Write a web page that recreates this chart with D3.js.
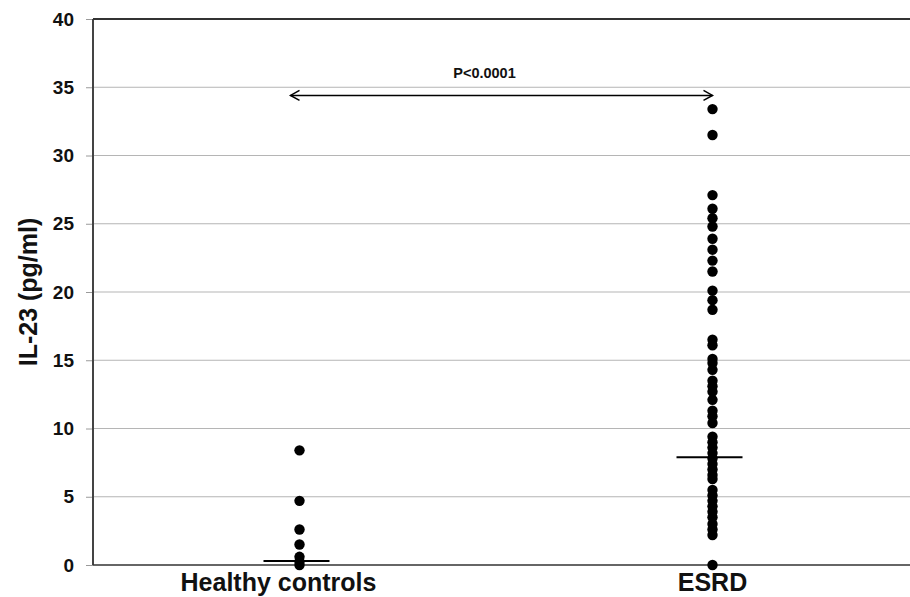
<!DOCTYPE html>
<html>
<head>
<meta charset="utf-8">
<script src="https://cdn.jsdelivr.net/npm/d3@7/dist/d3.min.js"></script>
<style>
  body { margin: 0; background: #fff; }
  svg { display: block; font-family: "Liberation Sans", Arial, sans-serif; }
</style>
</head>
<body>
<svg id="chart" width="910" height="597"></svg>
<script>
// groups on the x axis
var categories = ["Healthy controls", "ESRD"];

// IL-23 values (pg/ml)
var healthyValues = [8.4, 4.7, 2.6, 1.5, 0.6, 0.25, 0];
var esrdValues = [33.4, 31.5, 27.1, 26.1, 25.4, 24.8, 23.9, 23.1, 22.3, 21.5, 20.1, 19.4, 18.7,
                  16.5, 16.1, 15.1, 14.8, 14.3, 13.5, 13.1, 12.7, 12.1, 11.3, 10.9, 10.4,
                  9.4, 9.0, 8.6, 8.2, 7.8, 7.4, 7.0, 6.6, 6.3, 5.5, 5.1, 4.7, 4.3, 3.9,
                  3.5, 3.0, 2.6, 2.2, 0];

// group mean/median bars
var centreValues = [0.3, 7.9];

var yTicks = [0, 5, 10, 15, 20, 25, 30, 35, 40];
var pLabel = "P<0.0001";
var pValueLevel = 34.4;

var svg = d3.select("#chart");

var plotLeft = 93, plotTop = 19, plotBottom = 565, plotRight = 919;

var x = d3.scaleBand()
    .domain(categories)
    .range([plotLeft, plotRight]);

var y = d3.scaleLinear()
    .domain([0, 40])
    .range([plotBottom, plotTop]);

// gridlines
svg.append("g")
    .selectAll("line")
    .data(yTicks.filter(d => d > 0 && d < 40))
    .enter().append("line")
        .attr("x1", plotLeft)
        .attr("x2", 910)
        .attr("y1", d => y(d))
        .attr("y2", d => y(d))
        .style("stroke", "#b5b5b5")
        .style("stroke-width", 1);

// y axis
var yAxis = svg.append("g")
    .attr("transform", "translate(" + plotLeft + ",0)")
    .call(d3.axisLeft(y).tickValues(yTicks).tickSize(7).tickPadding(12));

yAxis.select(".domain").remove();
yAxis.selectAll(".tick line").style("stroke", "#9a9a9a");
yAxis.selectAll(".tick text")
    .style("font-size", "19px")
    .style("font-weight", "bold")
    .style("fill", "#111");

// frame: left, top and bottom
svg.append("line")
    .attr("x1", plotLeft).attr("x2", plotLeft)
    .attr("y1", plotTop).attr("y2", plotBottom)
    .style("stroke", "#444").style("stroke-width", 2);

svg.append("line")
    .attr("x1", plotLeft).attr("x2", 910)
    .attr("y1", plotTop).attr("y2", plotTop)
    .style("stroke", "#333").style("stroke-width", 2);

svg.append("line")
    .attr("x1", plotLeft).attr("x2", 910)
    .attr("y1", plotBottom).attr("y2", plotBottom)
    .style("stroke", "#333").style("stroke-width", 1.5);

// x axis labels (the first one sits a little left of its dots)
svg.append("g")
    .selectAll("text")
    .data(categories)
    .enter().append("text")
        .attr("x", (d, i) => x(d) + x.bandwidth() / 2 - (i === 0 ? 21 : 0))
        .attr("y", 591)
        .attr("text-anchor", "middle")
        .style("font-size", "25px")
        .style("font-weight", "bold")
        .style("fill", "#111")
        .text(d => d);

// y axis title
svg.append("text")
    .attr("transform", "translate(37," + (y(20)) + ") rotate(-90)")
    .attr("text-anchor", "middle")
    .style("font-size", "25px")
    .style("font-weight", "bold")
    .style("fill", "#111")
    .text("IL-23 (pg/ml)");

// dots
var groups = [healthyValues, esrdValues];
groups.forEach(function(vals, i) {
    var cx = x(categories[i]) + x.bandwidth() / 2;
    svg.append("g")
        .selectAll("circle")
        .data(vals)
        .enter().append("circle")
            .attr("cx", cx)
            .attr("cy", d => y(d))
            .attr("r", 5.2)
            .style("fill", "#000");
});

// centre bars
svg.append("g")
    .selectAll("line")
    .data(centreValues)
    .enter().append("line")
        .attr("x1", (d, i) => x(categories[i]) + x.bandwidth() / 2 - 36)
        .attr("x2", (d, i) => x(categories[i]) + x.bandwidth() / 2 + 30)
        .attr("y1", d => y(d))
        .attr("y2", d => y(d))
        .style("stroke", "#000")
        .style("stroke-width", 2);

// significance arrow
var x1 = x(categories[0]) + x.bandwidth() / 2 - 9,
    x2 = x(categories[1]) + x.bandwidth() / 2,
    ay = y(pValueLevel);

svg.append("line")
    .attr("x1", x1).attr("x2", x2)
    .attr("y1", ay).attr("y2", ay)
    .style("stroke", "#000").style("stroke-width", 1.5);

svg.append("path")
    .attr("d", "M" + (x1 + 9) + "," + (ay - 5) + "L" + x1 + "," + ay + "L" + (x1 + 9) + "," + (ay + 5))
    .style("fill", "none").style("stroke", "#000").style("stroke-width", 1.5);

svg.append("path")
    .attr("d", "M" + (x2 - 9) + "," + (ay - 5) + "L" + x2 + "," + ay + "L" + (x2 - 9) + "," + (ay + 5))
    .style("fill", "none").style("stroke", "#000").style("stroke-width", 1.5);

svg.append("text")
    .attr("x", (x1 + x2) / 2 - 17)
    .attr("y", 78)
    .attr("text-anchor", "middle")
    .style("font-size", "14.5px")
    .style("font-weight", "bold")
    .style("fill", "#111")
    .text(pLabel);
</script>
</body>
</html>
